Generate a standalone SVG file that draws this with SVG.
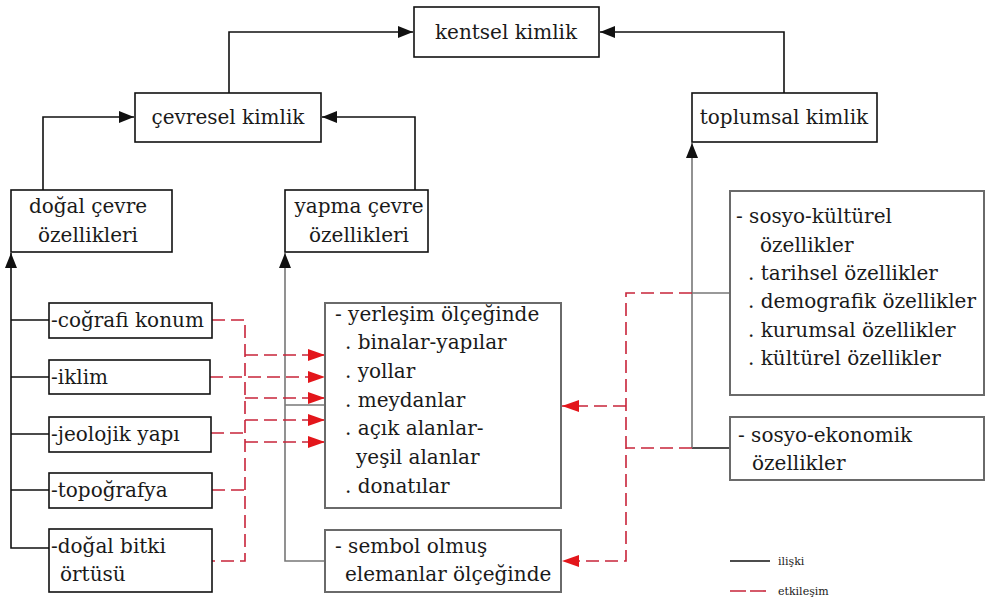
<svg xmlns="http://www.w3.org/2000/svg" width="988" height="606" viewBox="0 0 988 606">
<style>
text{font-family:"DejaVu Serif","Liberation Serif",serif;font-size:20px;fill:#1a1a1a}
.bk{fill:#fff;stroke:#111;stroke-width:1.6}
.bg{fill:#fff;stroke:#6a6a6a;stroke-width:2}
.c{text-anchor:middle}
.lb{fill:none;stroke:#111;stroke-width:1.6}
.lg{fill:none;stroke:#777;stroke-width:1.6}
.lr{fill:none;stroke:#c8243a;stroke-width:1.6;stroke-dasharray:13 6}
.leg{font-size:11px}
</style>
<defs>
<marker id="ab" markerUnits="userSpaceOnUse" markerWidth="16" markerHeight="12" refX="15" refY="6" orient="auto"><path d="M0,0 L15,6 L0,12 Z" fill="#111"/></marker>
<marker id="ar" markerUnits="userSpaceOnUse" markerWidth="18" markerHeight="12" refX="17" refY="6" orient="auto"><path d="M0,0 L17,6 L0,12 Z" fill="#e3161b"/></marker>
</defs>
<g id="connectors">
<path class="lb" d="M229,93 V32 H413" marker-end="url(#ab)"/>
<path class="lb" d="M784,93 V32 H600" marker-end="url(#ab)"/>
<path class="lb" d="M43,190 V117 H134" marker-end="url(#ab)"/>
<path class="lb" d="M415,190 V117 H322" marker-end="url(#ab)"/>
<path class="lb" d="M49,548 H11 V253" marker-end="url(#ab)"/>
<path class="lb" d="M11,320 H49 M11,377 H49 M11,434 H49 M11,490 H49"/>
<path class="lg" d="M325,561 H285 V253" marker-end="url(#ab)"/>
<path class="lg" d="M285,405 H325"/>
<path class="lg" d="M692,293 H730"/>
<path class="lb" d="M730,448 H692"/>
<path class="lg" d="M692,448 V143" marker-end="url(#ab)"/>
<path class="lr" d="M212,320 H245 V561 H212"/>
<path class="lr" d="M211,433 H245 M212,490 H245"/>
<path class="lr" d="M210,377 H325" marker-end="url(#ar)"/>
<path class="lr" d="M245,355 H325" marker-end="url(#ar)"/>
<path class="lr" d="M245,398 H325" marker-end="url(#ar)"/>
<path class="lr" d="M245,420 H325" marker-end="url(#ar)"/>
<path class="lr" d="M245,442 H325" marker-end="url(#ar)"/>
<path class="lr" d="M692,293 H626 V561 H562" marker-end="url(#ar)"/>
<path class="lr" d="M626,406 H562" marker-end="url(#ar)"/>
<path class="lr" d="M692,448 H626"/>
</g>
<g id="kentsel"><rect class="bk" x="414" y="7" width="185" height="50"/><text class="c" x="506" y="39">kentsel kimlik</text></g>
<g id="cevresel"><rect class="bk" x="135" y="93" width="186" height="49"/><text class="c" x="228" y="124">çevresel kimlik</text></g>
<g id="toplumsal"><rect class="bk" x="692" y="93" width="185" height="49"/><text class="c" x="784" y="124">toplumsal kimlik</text></g>
<g id="dogal"><rect class="bk" x="11" y="190" width="161" height="62"/><text class="c" x="88" y="213">doğal çevre</text><text class="c" x="88" y="242">özellikleri</text></g>
<g id="yapma"><rect class="bk" x="285" y="190" width="143" height="62"/><text class="c" x="359" y="213">yapma çevre</text><text class="c" x="359" y="242">özellikleri</text></g>
<g id="cografi"><rect class="bk" x="49" y="303" width="163" height="35"/><text x="51" y="327">-coğrafi konum</text></g>
<g id="iklim"><rect class="bk" x="49" y="360" width="161" height="34"/><text x="51" y="384">-iklim</text></g>
<g id="jeolojik"><rect class="bk" x="49" y="417" width="162" height="35"/><text x="51" y="441">-jeolojik yapı</text></g>
<g id="topografya"><rect class="bk" x="49" y="473" width="163" height="35"/><text x="51" y="497">-topoğrafya</text></g>
<g id="bitki"><rect class="bk" x="49" y="529" width="163" height="63"/><text x="51" y="553">-doğal bitki</text><text x="60" y="581">örtüsü</text></g>
<g id="yerlesim"><rect class="bg" x="325" y="303" width="236" height="205"/>
<text x="335" y="321">- yerleşim ölçeğinde</text>
<text x="345" y="349">. binalar-yapılar</text>
<text x="345" y="378">. yollar</text>
<text x="345" y="407">. meydanlar</text>
<text x="345" y="435">. açık alanlar-</text>
<text x="356" y="464">yeşil alanlar</text>
<text x="345" y="493">. donatılar</text></g>
<g id="sembol"><rect class="bg" x="325" y="530" width="236" height="62"/><text x="335" y="553">- sembol olmuş</text><text x="345" y="581">elemanlar ölçeğinde</text></g>
<g id="sosyokulturel"><rect class="bg" x="730" y="191" width="254" height="204"/>
<text x="736" y="223">- sosyo-kültürel</text>
<text x="760" y="252">özellikler</text>
<text x="748" y="280">. tarihsel özellikler</text>
<text x="748" y="308">. demografik özellikler</text>
<text x="748" y="337">. kurumsal özellikler</text>
<text x="748" y="365">. kültürel özellikler</text></g>
<g id="sosyoekonomik"><rect class="bg" x="730" y="417" width="254" height="63"/><text x="738" y="442">- sosyo-ekonomik</text><text x="752" y="470">özellikler</text></g>
<g id="legend">
<path class="lb" d="M730,561 H770"/><text class="leg" x="778" y="565">ilişki</text>
<path class="lr" d="M730,591 H770" style="stroke-dasharray:16 4"/><text class="leg" x="778" y="595">etkileşim</text>
</g>
</svg>
